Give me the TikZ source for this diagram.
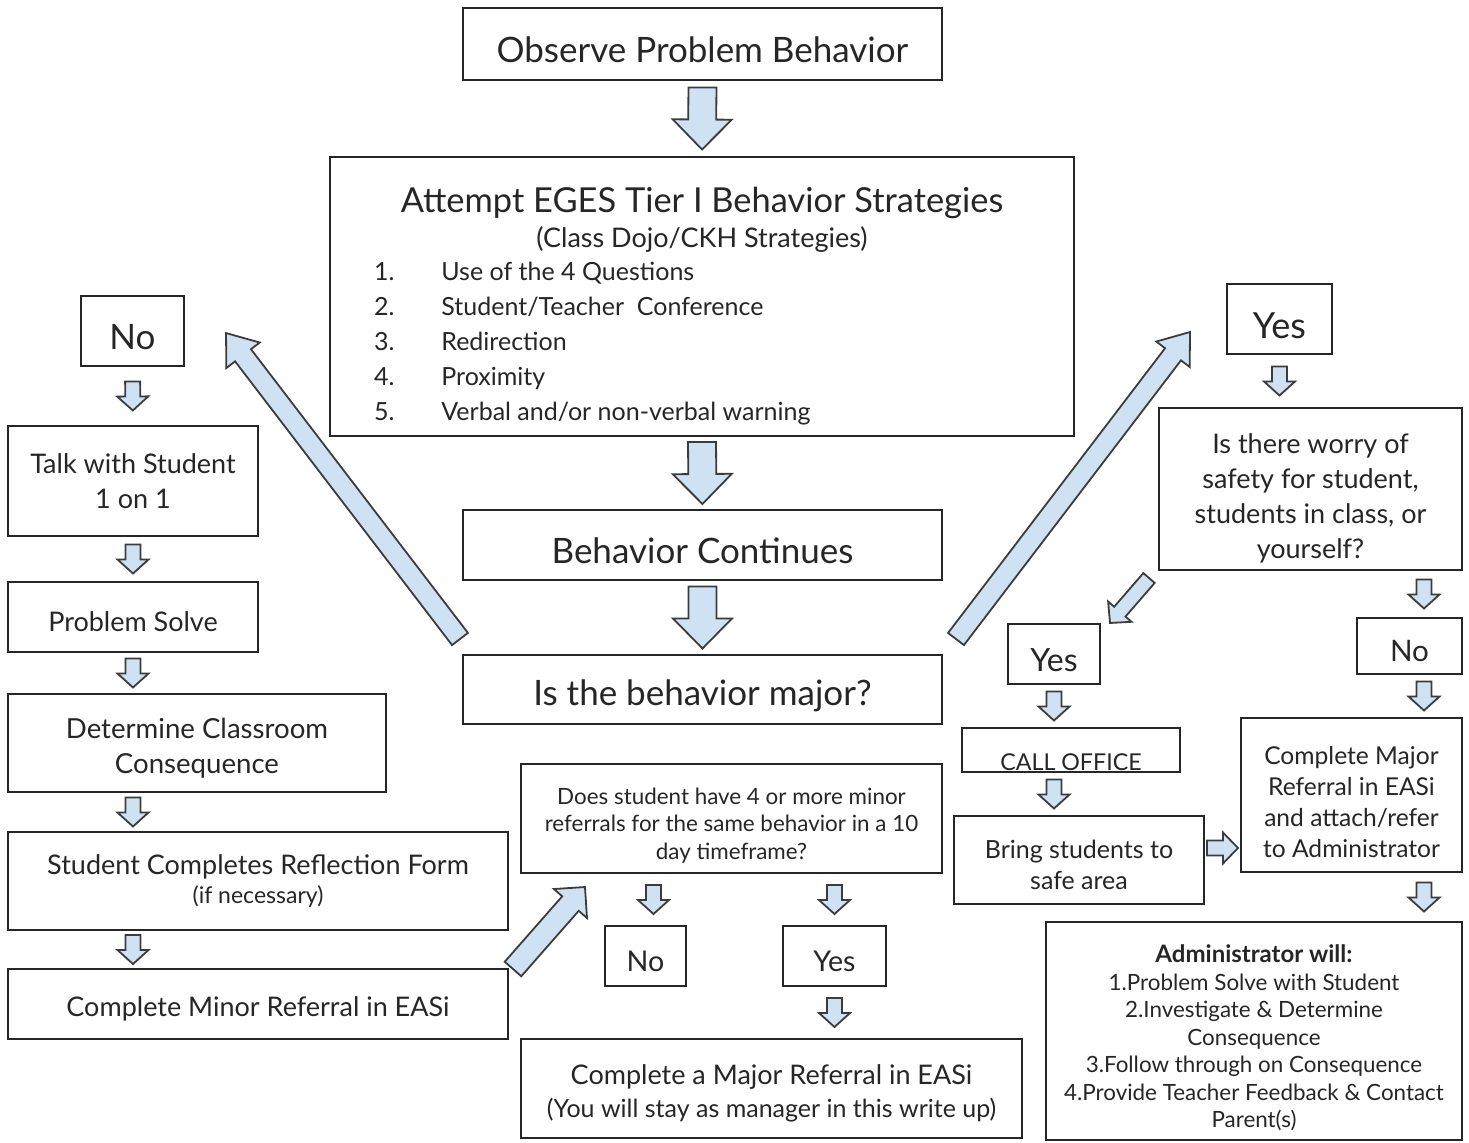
\documentclass[tikz,border=0pt]{standalone}
\usepackage{fontspec}
\setmainfont{Lato}
\usetikzlibrary{calc}

\definecolor{arrowblue}{HTML}{CFE2F3}
\definecolor{ink}{HTML}{262626}

% block arrow: [length px]{from}{to}{shaft px}{head px}{head length px}
\newcommand{\fatarrow}[6][0]{%
  \draw[fatarrow] let \p1=(#2), \p2=(#3),
    \n1={atan2(\y2-\y1,\x2-\x1)}, \n2={veclen(\x2-\x1,\y2-\y1)},
    \n3={ifthenelse(#1==0,\n2,#1*0.5pt)},
    \n4={(\n2-\n3)/2}, \n5={(\n2+\n3)/2}, \n6={\n5-#6*0.5pt}
  in [shift={(\p1)}, rotate=\n1]
    ({\n4},{-#4*0.25pt}) -- ({\n6},{-#4*0.25pt}) -- ({\n6},{-#5*0.25pt}) -- ({\n5},0pt)
    -- ({\n6},{#5*0.25pt}) -- ({\n6},{#4*0.25pt}) -- ({\n4},{#4*0.25pt}) -- cycle;}
\newcommand{\bigarrow}[2]{\fatarrow[62]{#1}{#2}{28}{59}{30}}
\newcommand{\smallarrow}[2]{\fatarrow[29]{#1}{#2}{15}{31}{14}}
\newcommand{\fsz}[2]{\fontsize{#1}{#2}\selectfont}
\newcommand{\lift}[1]{\rule{0pt}{#1}}

\begin{document}
\begin{tikzpicture}[x=0.5pt, y=-0.5pt,
box/.style 2 args={draw=ink, line width=1.4pt, fill=white, minimum width=#1*0.5pt, minimum height=#2*0.5pt, inner sep=0pt, align=center, text=ink, execute at begin node={\rule{0pt}{1.08em}}},
fatarrow/.style={draw=ink!90, fill=arrowblue, line width=0.9pt, line join=miter},
huge/.style={font=\fsz{17.5}{21}},
large/.style={font=\fsz{13.5}{17.5}},
normal/.style={font=\fsz{13.5}{17.5}},
little/.style={font=\fsz{11.2}{13.6}},
txt/.style={text=ink, inner sep=0pt},
]
\useasboundingbox (0,0) rectangle (1469,1142);

% Main column
\node[box={479}{72}, huge] (obs) at (702.5,44) {Observe Problem Behavior};
\node[box={744}{279}] (att) at (702,296.5) {};
\node[txt, font=\fsz{17.2}{20}] (attT) at (702,203) {Attempt EGES Tier I Behavior Strategies};
\node[txt, font=\fsz{13.5}{16}] (attS) at (702,239) {(Class Dojo/CKH Strategies)};
\foreach \i/\t in {1/{Use of the 4 Questions}, 2/{Student/Teacher\ \ Conference}, 3/{Redirection}, 4/{Proximity}, 5/{Verbal and/or non-verbal warning}}{
  \node[txt, anchor=base east, font=\fsz{12.5}{15}] (num\i) at (395,245+35*\i) {\i.};
  \node[txt, anchor=base west, font=\fsz{12.5}{15}] (item\i) at (441,245+35*\i) {\t};
}
\node[box={479}{70}, huge] (beh) at (702.5,545) {Behavior Continues};
\node[box={479}{69}, huge] (maj) at (702.5,689.5) {Is the behavior major?};

% Left column (not major)
\node[box={103}{70}, huge] (no1) at (132.5,331) {No};
\node[box={250}{110}, normal] (talk) at (133,481) {Talk with Student\\1 on 1};
\node[box={250}{70}, large] (solve) at (133,617) {Problem Solve};
\node[box={378}{98}, large, font=\fsz{13.8}{17.5}] (det) at (197,743) {\lift{15.2pt}Determine Classroom\\Consequence};
\node[box={500}{98}, large] (refl) at (258,881) {Student Completes Reflection Form\\[-3pt]{\fsz{11.5}{12}(if necessary)}};
\node[box={500}{70}, large] (minor) at (258,1004) {Complete Minor Referral in EASi};

% Minor referral count
\node[box={421}{109}, little] (quest) at (731.5,818.5) {\lift{15.3pt}Does student have 4 or more minor\\referrals for the same behavior in a 10\\day timeframe?};
\node[box={81}{60}, font=\fsz{14.3}{17}] (no2) at (645.5,956) {No};
\node[box={103}{60}, font=\fsz{14.3}{17}] (yes2) at (834.5,956) {Yes};
\node[box={501}{99}, large] (major) at (771.5,1088.5) {\lift{15pt}Complete a Major Referral in EASi\\[-1pt]{\fsz{12.5}{14}(You will stay as manager in this write up)}};

% Right column (major)
\node[box={105}{70}, font=\fsz{18}{21}] (yes1) at (1279.5,319) {Yes};
\node[box={303}{162}, normal] (worry) at (1310.5,489) {\lift{19pt}Is there worry of\\safety for student,\\students in class, or\\yourself?};
\node[box={92}{60}, font=\fsz{16}{19}] (yes3) at (1054,654) {Yes};
\node[box={105}{56}, font=\fsz{14.8}{17}] (no3) at (1409.5,646) {No};
\node[box={218}{44}] (call) at (1071,750) {};
\node[txt, font=\fsz{11.6}{14}] (callT) at (1071,762) {CALL OFFICE};
\node[box={250}{88}, font=\fsz{12.5}{15.5}] (safe) at (1079,860) {\lift{14.3pt}Bring students to\\safe area};
\node[box={221}{154}, font=\fsz{12.3}{15.5}] (cmaj) at (1351.5,795) {\lift{16.1pt}Complete Major\\Referral in EASi\\and attach/refer\\to Administrator};
\node[box={416}{218}, font=\fsz{11.2}{13.75}] (admin) at (1254,1031) {{\fsz{12}{14}\bfseries\lift{16pt}Administrator will:}\\1.Problem Solve with Student\\2.Investigate \& Determine\\Consequence\\3.Follow through on Consequence\\4.Provide Teacher Feedback \& Contact\\Parent(s)};

% Helper points
\coordinate (rcol) at (1424,0);
\coordinate (majNW) at (460,639);
\coordinate (noTip) at (226,333);
\coordinate (majNE) at (956,639);
\coordinate (yesTip) at (1190,332);
\coordinate (worrySW) at (1149,578);
\coordinate (yesThreeNE) at (1110,623);
\coordinate (minorNE) at (513,969);
\coordinate (questSW) at (585,887);
\coordinate (safeE) at ($(safe.east)+(0,-12)$);

% Main column arrows
\bigarrow{obs.south}{att.north}
\bigarrow{att.south}{beh.north}
\bigarrow{beh.south}{maj.north}

% Branch arrows
\fatarrow{majNW}{noTip}{20}{42}{28}
\fatarrow{majNE}{yesTip}{20}{42}{28}
\fatarrow{worrySW}{yesThreeNE}{15}{31}{15}
\fatarrow{minorNE}{questSW}{22}{44}{22}

% Left column arrows
\smallarrow{no1.south}{talk.north}
\smallarrow{talk.south}{solve.north}
\smallarrow{solve.south}{det.north -| talk}
\smallarrow{det.south -| talk}{refl.north -| talk}
\smallarrow{refl.south -| talk}{minor.north -| talk}

% Minor referral arrows
\smallarrow{$(quest.south -| no2)+(8,0)$}{$(no2.north)+(8,0)$}
\smallarrow{quest.south -| yes2}{yes2.north}
\smallarrow{yes2.south}{major.north -| yes2}

% Right column arrows
\smallarrow{yes1.south}{worry.north -| yes1}
\smallarrow{worry.south -| rcol}{no3.north -| rcol}
\smallarrow{no3.south -| rcol}{cmaj.north -| rcol}
\smallarrow{cmaj.south -| rcol}{admin.north -| rcol}
\smallarrow{yes3.south}{call.north -| yes3}
\smallarrow{call.south -| yes3}{safe.north -| yes3}
\fatarrow[31]{safeE}{safeE -| cmaj.west}{15}{31}{15}

\end{tikzpicture}
\end{document}
